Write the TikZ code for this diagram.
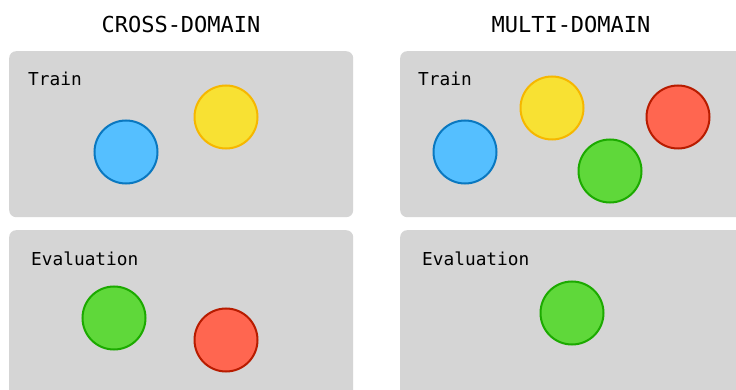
\documentclass[tikz,border=0pt]{standalone}
\usepackage{fontspec}
\setmonofont{DejaVu Sans Mono}
\definecolor{boxgray}{HTML}{D5D5D5}
\definecolor{bluefill}{HTML}{55BFFF}
\definecolor{bluedraw}{HTML}{0A78C0}
\definecolor{yellowfill}{HTML}{F8E133}
\definecolor{yellowdraw}{HTML}{F6B700}
\definecolor{greenfill}{HTML}{5FD83A}
\definecolor{greendraw}{HTML}{1CAA00}
\definecolor{redfill}{HTML}{FF6650}
\definecolor{reddraw}{HTML}{B81C00}
\tikzset{
  panel/.style={fill=boxgray, draw=none, rounded corners=7pt, anchor=north west, inner sep=0pt},
  title/.style={font=\ttfamily\fontsize{22}{26}\selectfont, anchor=base, inner sep=0pt},
  label/.style={font=\ttfamily\fontsize{17.8}{21}\selectfont, anchor=base west, inner sep=0pt},
  dot/.style={circle, minimum size=63pt, inner sep=0pt, line width=2pt},
  bluedot/.style={dot, fill=bluefill, draw=bluedraw},
  yellowdot/.style={dot, fill=yellowfill, draw=yellowdraw},
  greendot/.style={dot, fill=greenfill, draw=greendraw},
  reddot/.style={dot, fill=redfill, draw=reddraw},
}
\begin{document}
\begin{tikzpicture}[x=1pt,y=-1pt]
\useasboundingbox[fill=white] (0,0) rectangle (736,390);
\clip (0,0) rectangle (736,390);
% titles
\node[title] (t1) at (181,33) {CROSS-DOMAIN};
\node[title] (t2) at (571,33) {MULTI-DOMAIN};
% panels
\node[panel, minimum width=344pt, minimum height=166pt] (p1) at (9,51) {};
\node[panel, minimum width=360pt, minimum height=166pt] (p2) at (400,51) {};
\node[panel, minimum width=344pt, minimum height=180pt] (p3) at (9,230) {};
\node[panel, minimum width=360pt, minimum height=180pt] (p4) at (400,230) {};
% labels
\node[label] (l1) at (28,86) {Train};
\node[label] (l2) at (418,86) {Train};
\node[label] (l3) at (31,265) {Evaluation};
\node[label] (l4) at (422,265) {Evaluation};
% cross-domain train
\node[bluedot] (cb) at (126,152) {};
\node[yellowdot] (cy) at (226,117) {};
% multi-domain train
\node[bluedot] (mb) at (465,152) {};
\node[yellowdot] (my) at (552,108) {};
\node[greendot] (mg) at (610,171) {};
\node[reddot] (mr) at (678,117) {};
% cross-domain evaluation
\node[greendot] (eg) at (114,318) {};
\node[reddot] (er) at (226,340) {};
% multi-domain evaluation
\node[greendot] (fg) at (572,313) {};
\end{tikzpicture}
\end{document}
